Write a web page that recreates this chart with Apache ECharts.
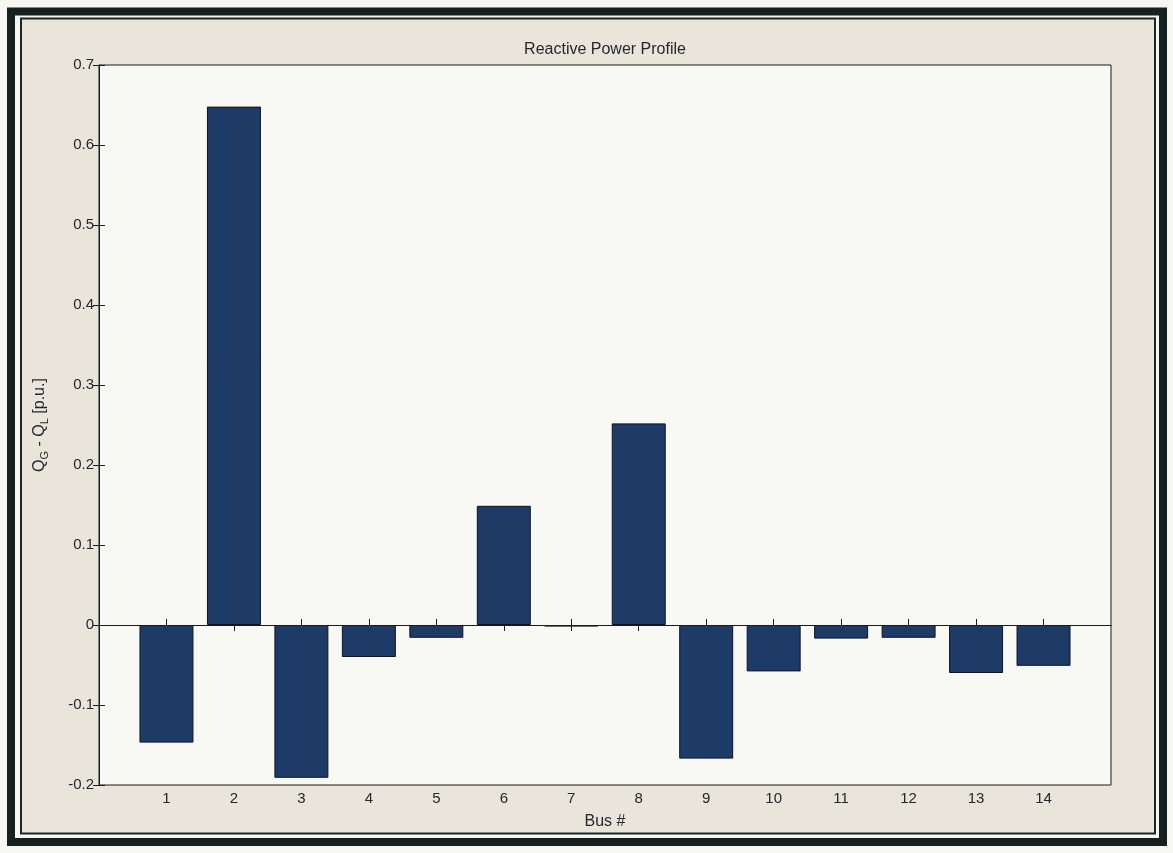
<!DOCTYPE html>
<html>
<head>
<meta charset="utf-8">
<title>Reactive Power Profile</title>
<script src="https://cdn.jsdelivr.net/npm/echarts@6/dist/echarts.min.js"></script>
<style>
  html, body { margin: 0; padding: 0; background: #f6f6f3; }
  #chart { width: 1173px; height: 853px; }
</style>
</head>
<body>
<div id="chart"></div>
<script>
// Bus numbers and net reactive power injection Q_G - Q_L (p.u.) per bus
const buses = [1, 2, 3, 4, 5, 6, 7, 8, 9, 10, 11, 12, 13, 14];
const qNet = [-0.147, 0.648, -0.191, -0.040, -0.016, 0.149, -0.002,
              0.252, -0.167, -0.058, -0.017, -0.016, -0.060, -0.051];
const yTicks = [-0.2, -0.1, 0, 0.1, 0.2, 0.3, 0.4, 0.5, 0.6, 0.7];

const W = 1173, H = 853;
const grid = { left: 99, top: 65, right: 62, bottom: 68 };
const plotW = W - grid.left - grid.right;
const barPx = plotW / 15 * 0.8;   // MATLAB default bar width (0.8 of a slot)

const txt = '#26262e';
const font = '"Liberation Sans", Arial, Helvetica, sans-serif';

const chart = echarts.init(document.getElementById('chart'), null, { renderer: 'canvas' });

const fmtY = v => String(Math.round(v * 10) / 10);

chart.setOption({
  backgroundColor: '#f6f6f3',
  animation: false,
  textStyle: { fontFamily: font },
  title: {
    text: 'Reactive Power Profile',
    left: 600,
    top: 37,
    textAlign: 'center',
    textStyle: { fontSize: 16, fontWeight: 'normal', color: txt, fontFamily: font }
  },
  graphic: [
    // figure window: beige panel with thin edge, then heavy outer frame
    {
      type: 'rect', z: -10, silent: true,
      shape: { x: 21, y: 18.5, width: 1134, height: 815 },
      style: { fill: '#e9e5da', stroke: '#1c2626', lineWidth: 2 }
    },
    {
      type: 'rect', z: -9, silent: true,
      shape: { x: 11, y: 11.5, width: 1152, height: 830.5 },
      style: { fill: 'none', stroke: '#16201f', lineWidth: 8 }
    }
  ],
  grid: {
    left: grid.left, top: grid.top, right: grid.right, bottom: grid.bottom,
    show: true, backgroundColor: '#f8f8f4', borderColor: '#1a1a1a', borderWidth: 1
  },
  xAxis: [
    {
      type: 'value', min: 0, max: 15, interval: 1, position: 'bottom',
      name: 'Bus #', nameLocation: 'middle', nameGap: 29,
      nameTextStyle: { fontSize: 16, color: txt, fontFamily: font },
      axisLine: { show: true, lineStyle: { color: '#1a1a1a', width: 1 } },
      axisTick: { show: true, inside: true, length: 6, customValues: buses,
                  lineStyle: { color: '#1a1a1a' } },
      axisLabel: { show: true, customValues: buses, margin: 6,
                   fontSize: 15, color: txt, fontFamily: font },
      splitLine: { show: false }
    },
    {
      type: 'value', min: 0, max: 15, interval: 1, position: 'top',
      axisLine: { show: true, lineStyle: { color: '#1a1a1a', width: 1 } },
      axisTick: { show: true, inside: true, length: 6, customValues: buses,
                  lineStyle: { color: '#1a1a1a' } },
      axisLabel: { show: false },
      splitLine: { show: false }
    }
  ],
  yAxis: [
    {
      type: 'value', min: -0.2, max: 0.7, interval: 0.1, position: 'left',
      name: 'Q{sub|G} - Q{sub|L} [p.u.]', nameLocation: 'middle', nameGap: 49, nameRotate: 90,
      nameTextStyle: {
        fontSize: 16, color: txt, fontFamily: font, lineHeight: 20,
        rich: {
          sub: { fontSize: 11, color: txt, fontFamily: font, lineHeight: 20,
                 verticalAlign: 'bottom', padding: [8, 0, 0, 0] }
        }
      },
      axisLine: { show: true, lineStyle: { color: '#1a1a1a', width: 1 } },
      axisTick: { show: true, inside: true, length: 6, lineStyle: { color: '#1a1a1a' } },
      axisLabel: { show: true, margin: 5, fontSize: 15, color: txt, fontFamily: font,
                   formatter: fmtY, customValues: yTicks },
      splitLine: { show: false }
    },
    {
      type: 'value', min: -0.2, max: 0.7, interval: 0.1, position: 'right',
      axisLine: { show: true, lineStyle: { color: '#1a1a1a', width: 1 } },
      axisTick: { show: true, inside: true, length: 6, lineStyle: { color: '#1a1a1a' } },
      axisLabel: { show: false },
      splitLine: { show: false }
    }
  ],
  series: [
    {
      type: 'bar',
      xAxisIndex: 0, yAxisIndex: 0,
      barWidth: barPx,
      data: buses.map((b, i) => [b, qNet[i]]),
      itemStyle: { color: '#1e3b68', borderColor: '#0d1420', borderWidth: 1 },
      markLine: {
        silent: true, symbol: 'none', label: { show: false },
        lineStyle: { color: '#1a1a1a', width: 1, type: 'solid' },
        data: [{ yAxis: 0 }]
      }
    }
  ]
});
</script>
</body>
</html>
